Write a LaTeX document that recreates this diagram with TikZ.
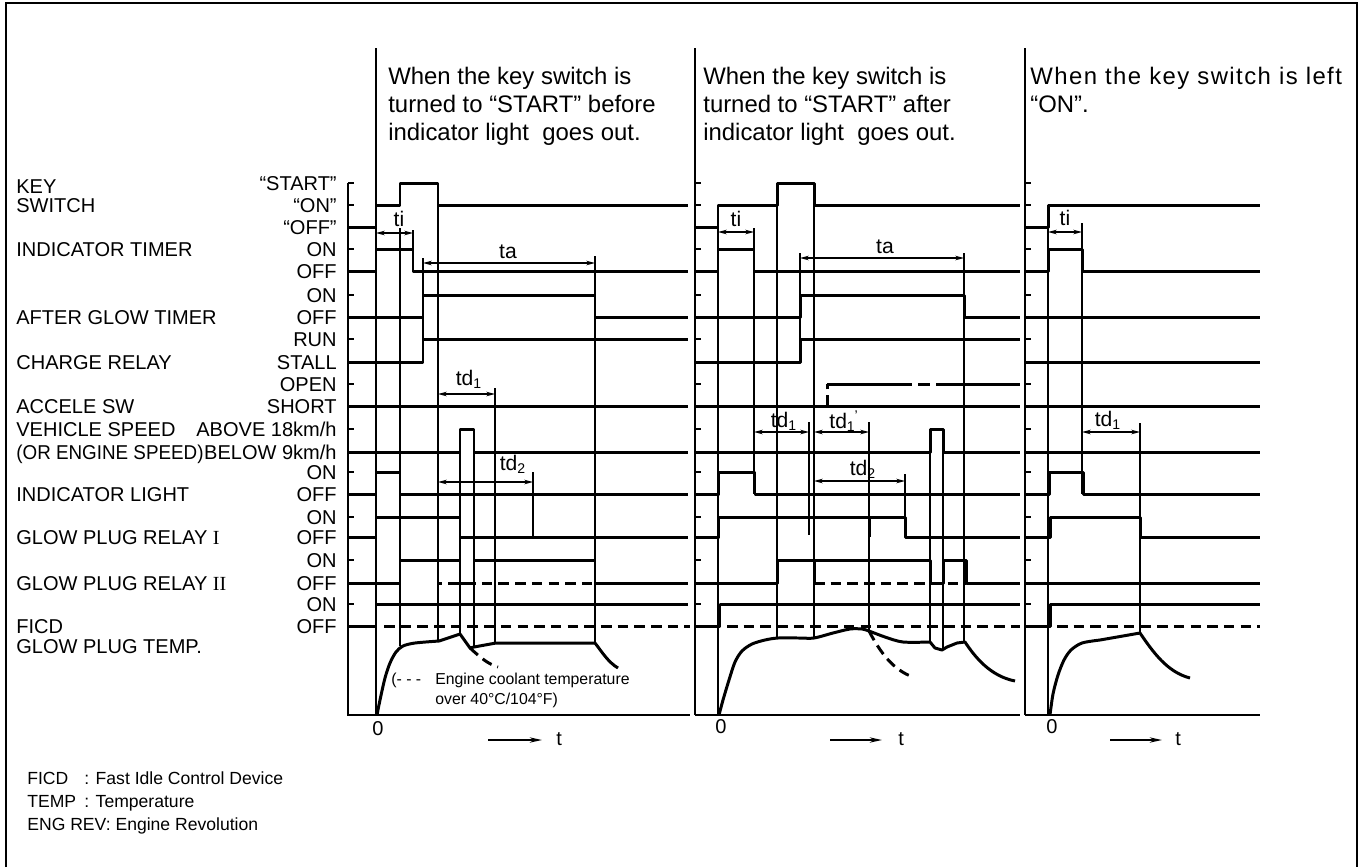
\documentclass[tikz,border=0pt]{standalone}
\usepackage{fontspec}
\setmainfont{Liberation Sans}
\newfontfamily\numfont{Liberation Serif}
\usetikzlibrary{arrows.meta}
\tikzset{
 sig/.style={line width=1.7pt, line join=round},
 thinl/.style={line width=0.6pt},
 dsig/.style={line width=1.7pt, dash pattern=on 6pt off 3.5pt},
 dimarr/.style={line width=0.7pt, {Stealth[length=5pt,width=2.6pt]}-{Stealth[length=5pt,width=2.6pt]}},
 lab/.style={font=\fontsize{11.4}{13}\selectfont, inner sep=0pt, anchor=base west},
 st/.style={font=\fontsize{11.4}{13}\selectfont, inner sep=0pt, anchor=base east},
 ttl/.style={font=\fontsize{13.6}{16}\selectfont, inner sep=0pt, anchor=base west},
 dl/.style={font=\fontsize{12}{14}\selectfont, inner sep=0pt},
 ann/.style={font=\fontsize{9}{11}\selectfont, inner sep=0pt, anchor=base west},
 leg/.style={font=\fontsize{10}{12}\selectfont, inner sep=0pt, anchor=base west},
 axisl/.style={line width=1pt},
 tarr/.style={line width=1pt, -{Stealth[length=7pt,width=3pt]}},
}
\begin{document}
\begin{tikzpicture}[x=0.02cm,y=-0.02cm]
\useasboundingbox (0,0) rectangle (1360,867);
% frame
\draw[line width=1pt] (6,867) -- (6,3) -- (1357,3) -- (1357,867);

% ---------- row labels ----------
\node[lab] (lkey) at (16,193) {KEY};
\node[lab] (lsw) at (16,212) {SWITCH};
\node[lab] (lit) at (16,256) {INDICATOR TIMER};
\node[lab] (lag) at (16,324) {AFTER GLOW TIMER};
\node[lab] (lcr) at (16,369) {CHARGE RELAY};
\node[lab] (las) at (16,413) {ACCELE SW};
\node[lab] (lvs) at (16,436) {VEHICLE SPEED};
\node[lab] (les) at (16,459) {\scalebox{0.94}[1]{(OR ENGINE SPEED)}};
\node[lab] (lil) at (16,501) {INDICATOR LIGHT};
\node[lab] (lg1) at (16,544) {GLOW PLUG RELAY {\numfont I}};
\node[lab] (lg2) at (16,590) {GLOW PLUG RELAY {\numfont II}};
\node[lab] (lfi) at (16,633) {FICD};
\node[lab] (lgt) at (16,653) {GLOW PLUG TEMP.};

\node[st] (s1) at (337,190) {“START”};
\node[st] (s2) at (337,212) {“ON”};
\node[st] (s3) at (337,234) {“OFF”};
\node[st] (s4) at (337,256) {ON};
\node[st] (s5) at (337,278) {OFF};
\node[st] (s6) at (337,302) {ON};
\node[st] (s7) at (337,324) {OFF};
\node[st] (s8) at (337,346) {RUN};
\node[st] (s9) at (337,369) {STALL};
\node[st] (s10) at (337,391) {OPEN};
\node[st] (s11) at (337,413) {SHORT};
\node[st] (s12) at (337,436) {ABOVE 18km/h};
\node[st] (s13) at (337,459) {BELOW 9km/h};
\node[st] (s14) at (337,479) {ON};
\node[st] (s15) at (337,501) {OFF};
\node[st] (s16) at (337,524) {ON};
\node[st] (s17) at (337,544) {OFF};
\node[st] (s18) at (337,567) {ON};
\node[st] (s19) at (337,590) {OFF};
\node[st] (s20) at (337,611) {ON};
\node[st] (s21) at (337,633) {OFF};

% ---------- titles ----------
\node[ttl] (t11) at (388,84) {When the key switch is};
\node[ttl] (t12) at (388,112) {turned to “START” before};
\node[ttl] (t13) at (388,140) {indicator light\ \ goes out.};
\node[ttl] (t21) at (703,84) {When the key switch is};
\node[ttl] (t22) at (703,112) {turned to “START” after};
\node[ttl] (t23) at (703,140) {indicator light\ \ goes out.};
\node[ttl] (t31) at (1030,84) {\addfontfeature{LetterSpace=6}When the key switch is left};
\node[ttl] (t32) at (1030,112) {“ON”.};

% ---------- axes and separators ----------
\draw[axisl] (348,183) -- (348,715) -- (690,715);
\draw[thinl] (376,48) -- (376,715);
\draw[thinl] (695,48) -- (695,715);
\draw[axisl] (695,715) -- (1020,715);
\draw[thinl] (1025,48) -- (1025,715);
\draw[axisl] (1025,715) -- (1260,715);
\foreach \y in {183,205,227,249,271,295,317,339,362,384,406,429,452,472,494,517,537,560,583,604,626}{
  \draw[thinl] (348,\y) -- (354,\y);
  \draw[thinl] (695,\y) -- (701,\y);
  \draw[thinl] (1025,\y) -- (1031,\y);
}

% ================= PANEL 1 =================
\draw[sig] (348,227) -- (376,227) -- (376,205) -- (400,205) -- (400,183) -- (438,183) -- (438,205) -- (688,205);
\draw[sig] (348,271) -- (376,271) -- (376,249) -- (413,249) -- (413,271) -- (688,271);
\draw[sig] (348,317) -- (423,317) -- (423,295) -- (595,295) -- (595,317) -- (688,317);
\draw[sig] (348,362) -- (423,362) -- (423,339) -- (688,339);
\draw[sig] (348,406) -- (688,406);
\draw[sig] (348,452) -- (460,452) -- (460,429) -- (474,429) -- (474,452) -- (688,452);
\draw[sig] (348,494) -- (376,494) -- (376,472) -- (400,472) -- (400,494) -- (688,494);
\draw[sig] (348,537) -- (376,537) -- (376,517) -- (460,517) -- (460,537) -- (688,537);
\draw[dsig] (438,560) -- (438,583) -- (595,583);
\draw[sig] (348,583) -- (400,583) -- (400,560) -- (460,560) -- (460,583) -- (474,583) -- (474,560) -- (595,560) -- (595,583) -- (688,583);
\draw[sig] (348,626) -- (376,626) -- (376,604) -- (688,604);
\draw[dsig] (384,626) -- (690,626);
\draw[sig] plot[smooth] coordinates {(377,715) (380,700) (385,678) (390,663) (396,652) (403,646) (415,643) (439,641)} -- (460,634) -- (470,648) -- (474,647) -- (496,643) -- (595,643) .. controls (602,652) and (608,662) .. (618,668);
\draw[dsig] (470,648) .. controls (481,658) and (488,664) .. (498,667);
% thin verticals
\draw[thinl] (400,228) -- (400,646);
\draw[thinl] (413,230) -- (413,271);
\draw[thinl] (423,258) -- (423,362);
\draw[thinl] (438,183) -- (438,641);
\draw[thinl] (460,429) -- (460,634);
\draw[thinl] (474,429) -- (474,647);
\draw[thinl] (495,388) -- (495,643);
\draw[thinl] (533,472) -- (533,537);
\draw[thinl] (595,256) -- (595,643);
% dimensions
\draw[dimarr] (376,233) -- (413,233);
\node[dl] (ti1) at (399,219) {ti};
\draw[dimarr] (423,263) -- (595,263);
\node[dl] (ta1) at (508,252) {ta};
\draw[dimarr] (438,394) -- (495,394);
\node[dl] (td11) at (469,379) {td\textsubscript{1}};
\draw[dimarr] (438,482) -- (533,482);
\node[dl] (td21) at (513,464) {td\textsubscript{2}};
% annotation
\node[ann] (c1) at (391,684) {(- - -};
\node[ann] (c2) at (435,684) {Engine coolant temperature};
\node[ann] (c3) at (435,704) {over 40°C/104°F)};
\node[lab] (z1) at (372,735) {0};
\draw[tarr] (488,740) -- (542,740);
\node[lab] (tt1) at (556,745) {t};

% ================= PANEL 2 =================
\draw[sig] (695,227) -- (718,227) -- (718,205) -- (777,205) -- (777,183) -- (814,183) -- (814,205) -- (1020,205);
\draw[sig] (695,271) -- (718,271) -- (718,249) -- (754,249) -- (754,271) -- (1020,271);
\draw[sig] (695,317) -- (800,317) -- (800,295) -- (964,295) -- (964,317) -- (1020,317);
\draw[sig] (695,362) -- (800,362) -- (800,339) -- (1020,339);
\draw[sig] (695,406) -- (1020,406);
\draw[dsig] (827,406) -- (827,384);
\draw[sig] (827,384) -- (912,384);
\draw[sig] (918,384) -- (930,384);
\draw[sig] (936,384) -- (1020,384);
\draw[sig] (695,452) -- (930,452) -- (930,429) -- (943,429) -- (943,452) -- (1020,452);
\draw[sig] (695,494) -- (719,494) -- (719,472) -- (755,472) -- (755,494) -- (1020,494);
\draw[sig] (695,537) -- (719,537) -- (719,517) -- (905,517) -- (905,537) -- (1020,537);
\draw[sig] (869,517) -- (869,537);
\draw[dsig] (814,583) -- (966,583);
\draw[sig] (695,583) -- (777,583) -- (777,560) -- (930,560) -- (930,583) -- (943,583) -- (943,560) -- (966,560) -- (966,583) -- (1020,583);
\draw[sig] (814,560) -- (814,583);
\draw[sig] (695,626) -- (720,626) -- (720,604) -- (1020,604);
\draw[dsig] (727,626) -- (1020,626);
\draw[sig] plot[smooth] coordinates {(719,715) (723,700) (729,680) (735,662) (742,651) (752,644) (765,640) (778,638) (800,638) (814,638) (833,633) (850,629) (862,629) (869,631) (885,637) (903,642) (930,642)} -- (935,648) -- (942,650) -- (947,647) -- (957,643) -- (965,642) .. controls (975,657) and (990,676) .. (1015,681);
\draw[dsig] (869,631) .. controls (880,652) and (893,670) .. (913,677);
% thin verticals
\draw[thinl] (718,228) -- (718,715);
\draw[thinl] (754,228) -- (754,494);
\draw[thinl] (777,183) -- (777,638);
\draw[thinl] (800,253) -- (800,362);
\draw[thinl] (809,422) -- (809,535);
\draw[thinl] (814,183) -- (814,638);
\draw[thinl] (869,422) -- (869,631);
\draw[thinl] (905,474) -- (905,537);
\draw[thinl] (930,429) -- (930,642);
\draw[thinl] (943,429) -- (943,650);
\draw[thinl] (964,253) -- (964,642);
% dimensions
\draw[dimarr] (718,232) -- (754,232);
\node[dl] (ti2) at (736,219) {ti};
\draw[dimarr] (800,258) -- (964,258);
\node[dl] (ta2) at (885,247) {ta};
\draw[dimarr] (754,432) -- (809,432);
\node[dl] (td12) at (784,421) {td\textsubscript{1}};
\draw[dimarr] (814,432) -- (869,432);
\node[dl] (td13) at (844,421) {td\textsubscript{1}\kern-0.05em\textsuperscript{'}};
\draw[dimarr] (814,481) -- (905,481);
\node[dl] (td22) at (863,469) {td\textsubscript{2}};
\node[lab] (z2) at (715,733) {0};
\draw[tarr] (830,740) -- (882,740);
\node[lab] (tt2) at (898,745) {t};

% ================= PANEL 3 =================
\draw[sig] (1025,227) -- (1048,227) -- (1048,205) -- (1260,205);
\draw[sig] (1025,271) -- (1048,271) -- (1048,249) -- (1082,249) -- (1082,271) -- (1260,271);
\draw[sig] (1025,317) -- (1260,317);
\draw[sig] (1025,362) -- (1260,362);
\draw[sig] (1025,406) -- (1260,406);
\draw[sig] (1025,452) -- (1260,452);
\draw[sig] (1025,494) -- (1049,494) -- (1049,472) -- (1083,472) -- (1083,494) -- (1260,494);
\draw[sig] (1025,537) -- (1050,537) -- (1050,517) -- (1140,517) -- (1140,537) -- (1260,537);
\draw[sig] (1025,583) -- (1260,583);
\draw[sig] (1025,626) -- (1050,626) -- (1050,604) -- (1260,604);
\draw[dsig] (1057,626) -- (1260,626);
\draw[sig] plot[smooth] coordinates {(1050,715) (1053,694) (1058,675) (1064,660) (1071,650) (1082,643) (1100,640)} -- (1140,633) .. controls (1153,652) and (1167,672) .. (1190,678);
% thin verticals
\draw[thinl] (1048,223) -- (1048,715);
\draw[thinl] (1082,223) -- (1082,494);
\draw[thinl] (1140,423) -- (1140,633);
% dimensions
\draw[dimarr] (1048,232) -- (1082,232);
\node[dl] (ti3) at (1065,218) {ti};
\draw[dimarr] (1082,432) -- (1140,432);
\node[dl] (td14) at (1108,420) {td\textsubscript{1}};
\node[lab] (z3) at (1046,733) {0};
\draw[tarr] (1110,740) -- (1162,740);
\node[lab] (tt3) at (1175,745) {t};

% ---------- legend ----------
\node[leg] (g1a) at (27,784) {FICD};
\node[leg] (g1b) at (84,784) {: Fast Idle Control Device};
\node[leg] (g2a) at (27,807) {TEMP};
\node[leg] (g2b) at (84,807) {: Temperature};
\node[leg] (g3a) at (27,830) {ENG REV: Engine Revolution};
\end{tikzpicture}
\end{document}
